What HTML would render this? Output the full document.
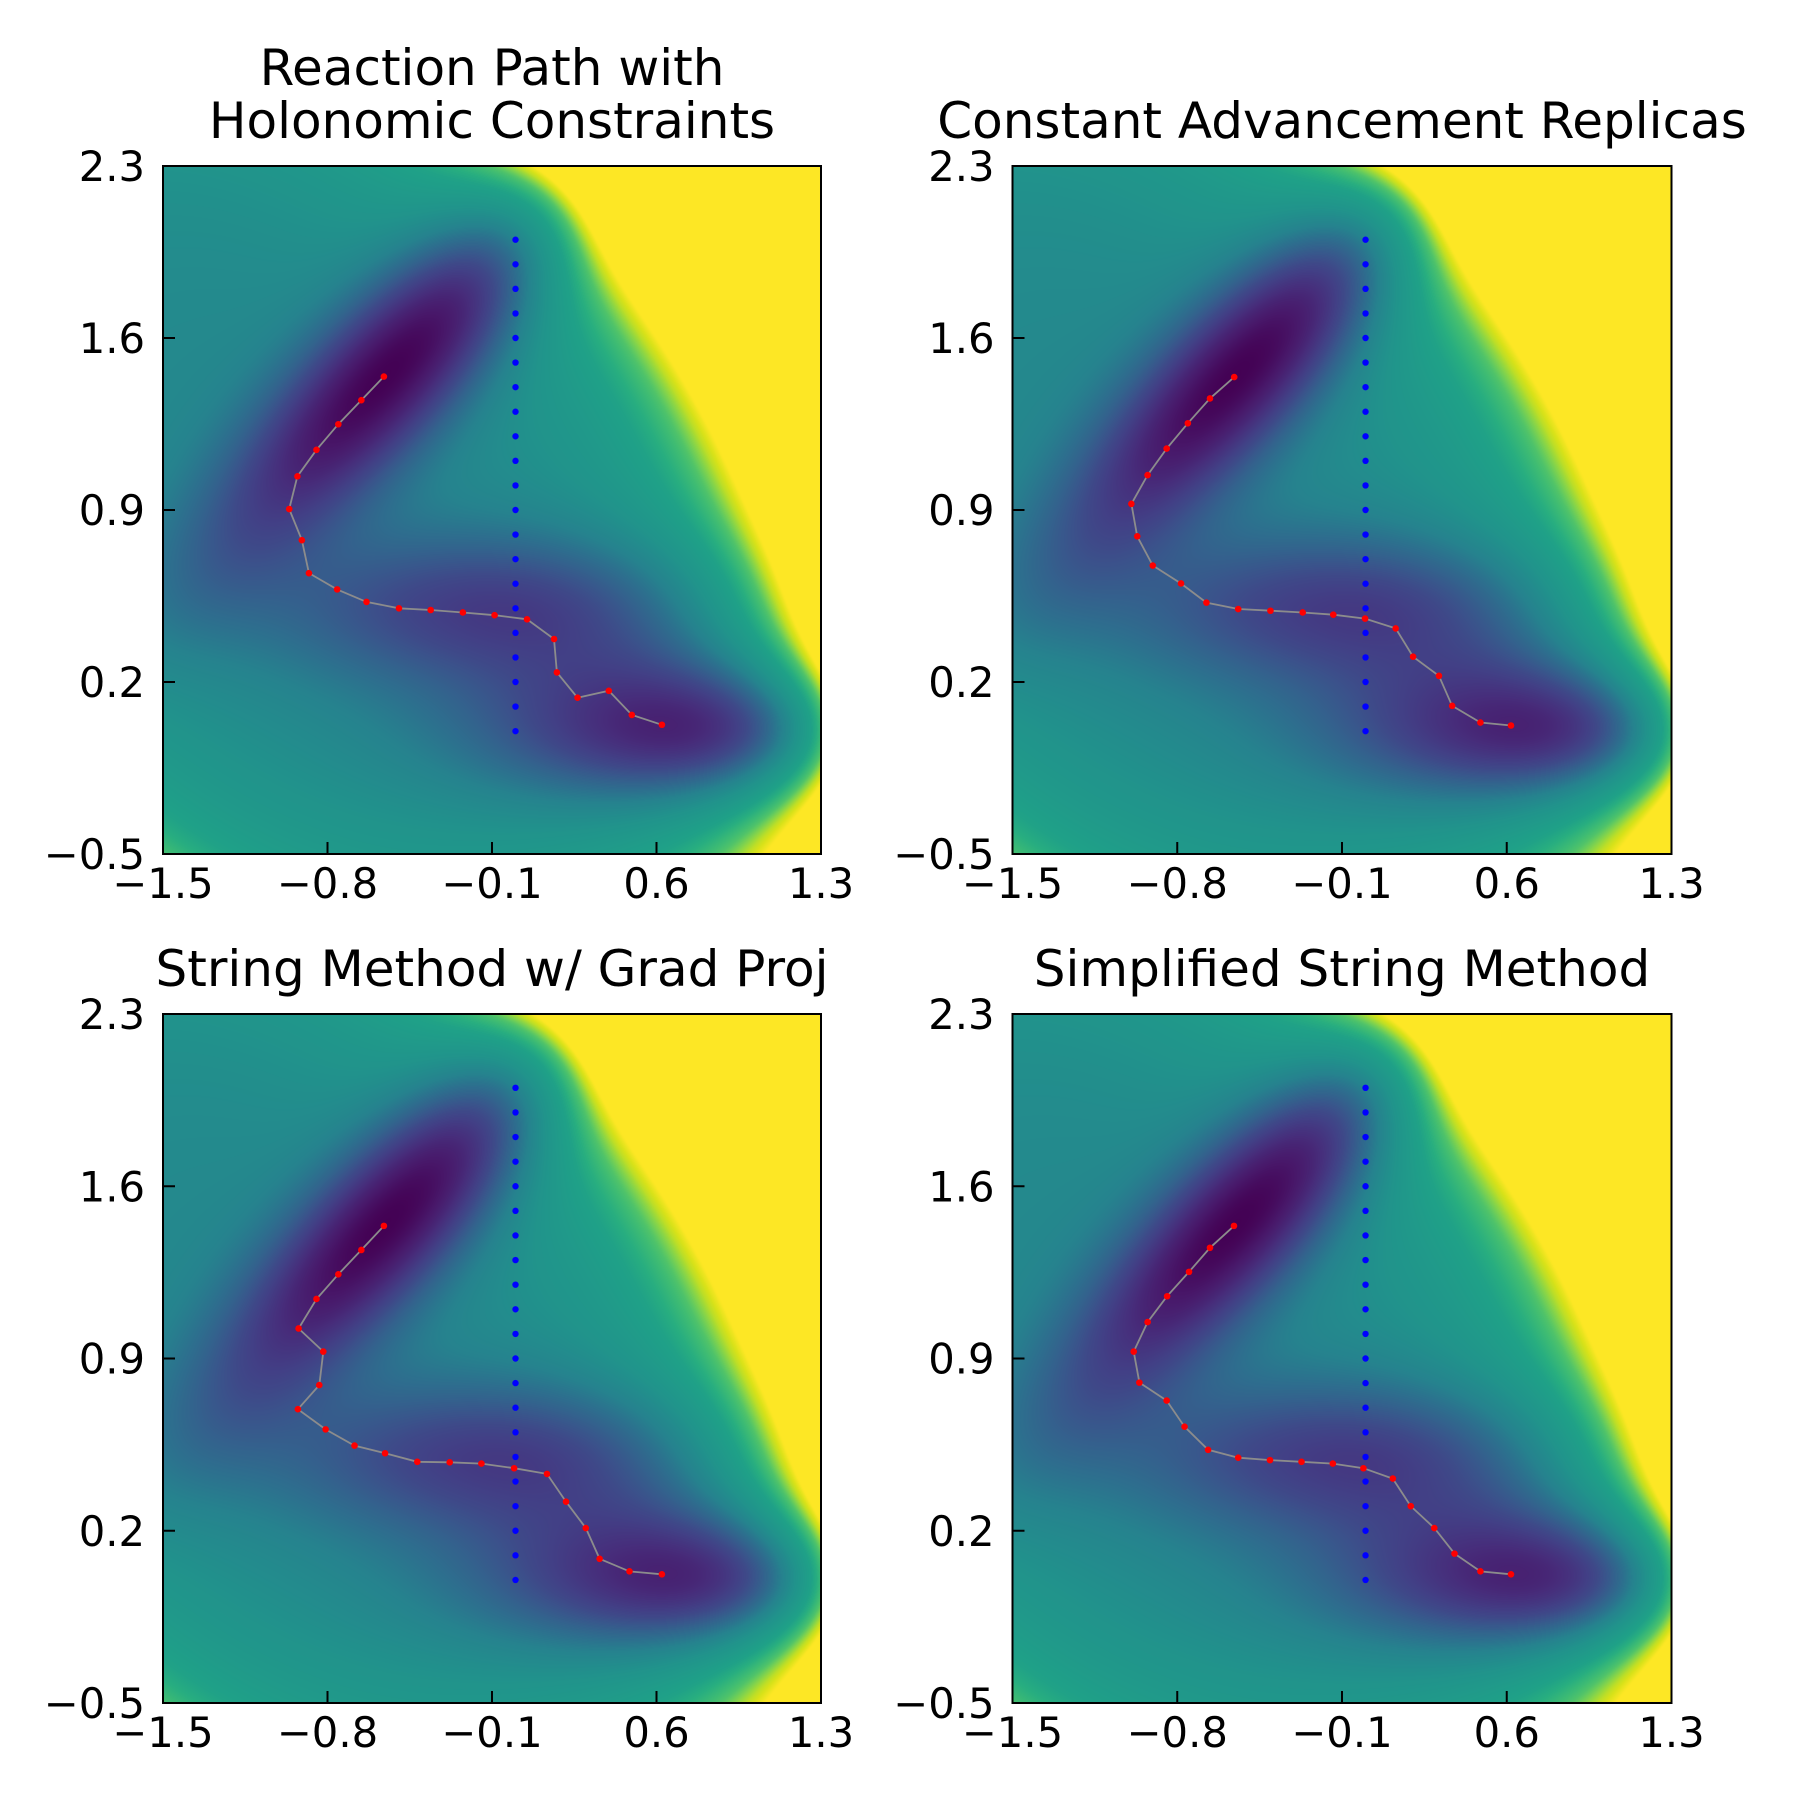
<!DOCTYPE html>
<html><head><meta charset="utf-8">
<style>
html,body{margin:0;padding:0;background:#fff;}
#root{position:relative;width:1800px;height:1800px;overflow:hidden;font-family:"DejaVu Sans","Liberation Sans",sans-serif;}
canvas{position:absolute;}
svg{position:absolute;left:0;top:0;}
</style></head>
<body>
<div id="root">
<svg id="svg" width="1800" height="1800"></svg>
</div>
<script>
// ---- data ----
const xTicks = [-1.5, -0.8, -0.1, 0.6, 1.3];
const yTicks = [-0.5, 0.2, 0.9, 1.6, 2.3];
const xTickLabels = ["\u22121.5", "\u22120.8", "\u22120.1", "0.6", "1.3"];
const yTickLabels = ["\u22120.5", "0.2", "0.9", "1.6", "2.3"];
const constraintX = 0.0;
const constraintY = [0,0.1,0.2,0.3,0.4,0.5,0.6,0.7,0.8,0.9,1.0,1.1,1.2,1.3,1.4,1.5,1.6,1.7,1.8,1.9,2.0];
const titles = [["Reaction Path with","Holonomic Constraints"],["Constant Advancement Replicas"],["String Method w/ Grad Proj"],["Simplified String Method"]];
const pathX1 = [-0.560,-0.656,-0.754,-0.847,-0.928,-0.963,-0.909,-0.879,-0.759,-0.634,-0.496,-0.361,-0.224,-0.089,0.049,0.164,0.176,0.264,0.397,0.495,0.623];
const pathY1 = [1.443,1.347,1.249,1.145,1.037,0.904,0.777,0.643,0.577,0.526,0.500,0.493,0.483,0.472,0.455,0.375,0.239,0.136,0.164,0.066,0.026];
const pathX2 = [-0.558,-0.661,-0.755,-0.845,-0.926,-0.995,-0.970,-0.904,-0.784,-0.676,-0.541,-0.404,-0.267,-0.137,-0.002,0.128,0.202,0.312,0.368,0.488,0.618];
const pathY2 = [1.441,1.354,1.253,1.150,1.042,0.925,0.793,0.674,0.601,0.523,0.497,0.490,0.483,0.474,0.458,0.418,0.303,0.225,0.103,0.035,0.023];
const pathX3 = [-0.560,-0.656,-0.754,-0.847,-0.923,-0.818,-0.835,-0.926,-0.808,-0.685,-0.555,-0.418,-0.280,-0.145,-0.006,0.134,0.215,0.299,0.358,0.485,0.623];
const pathY3 = [1.439,1.341,1.242,1.142,1.022,0.928,0.792,0.694,0.612,0.546,0.515,0.480,0.478,0.473,0.454,0.431,0.318,0.211,0.086,0.035,0.023];
const pathX4 = [-0.559,-0.661,-0.750,-0.843,-0.926,-0.985,-0.961,-0.845,-0.769,-0.669,-0.541,-0.406,-0.272,-0.139,-0.009,0.116,0.192,0.292,0.378,0.488,0.618];
const pathY4 = [1.439,1.350,1.252,1.153,1.048,0.928,0.802,0.729,0.623,0.529,0.497,0.487,0.480,0.473,0.454,0.412,0.300,0.211,0.107,0.035,0.023];
const pathsX = [pathX1, pathX2, pathX3, pathX4];
const pathsY = [pathY1, pathY2, pathY3, pathY4];

// ---- layout ----
const panels = [
  {l:163, r:821, t:166, b:854},
  {l:1012.5, r:1671.5, t:166, b:854},
  {l:163, r:821, t:1014, b:1703},
  {l:1012.5, r:1671.5, t:1014, b:1703}
];
const XMIN=-1.5, XMAX=1.3, YMIN=-0.5, YMAX=2.3;
// colour normalisation knots (potential -> colormap position)
const NV=[-147,-100,-60,5,40,90,140,175,205];
const NT=[0,0.11,0.22,0.44,0.51,0.57,0.72,0.9,1];

const viridis = ["#440154","#48186a","#472d7b","#424086","#3b528b","#33638d","#2c728e","#26828e","#21918c","#1fa088","#28ae80","#3fbc73","#5ec962","#84d44b","#addc30","#d8e219","#fde725"].map(h=>[parseInt(h.substr(1,2),16),parseInt(h.substr(3,2),16),parseInt(h.substr(5,2),16)]);
function cmap(t){
  t=Math.max(0,Math.min(1,t));
  const f=t*16, i=Math.min(15,Math.floor(f)), u=f-i;
  const a=viridis[i], b=viridis[i+1];
  return [a[0]+(b[0]-a[0])*u, a[1]+(b[1]-a[1])*u, a[2]+(b[2]-a[2])*u];
}
function norm(v){
  if(v<=NV[0]) return 0;
  for(let k=1;k<NV.length;k++){
    if(v<=NV[k]) return NT[k-1]+(NT[k]-NT[k-1])*(v-NV[k-1])/(NV[k]-NV[k-1]);
  }
  return 1;
}
const A=[-200,-100,-170,15], a=[-1,-1,-6.5,0.7], bb=[0,0,11,0.6], c=[-10,-10,-6.5,0.7], x0=[1,0,-0.5,-1], y0=[0,0.5,1.5,1];
function V(x,y){
  let s=0;
  for(let k=0;k<4;k++){const dx=x-x0[k],dy=y-y0[k]; s+=A[k]*Math.exp(a[k]*dx*dx+bb[k]*dx*dy+c[k]*dy*dy);}
  return s;
}

const NS="http://www.w3.org/2000/svg";
const svg=document.getElementById('svg');
const root=document.getElementById('root');
function mk(tag, attrs, parent){
  const e=document.createElementNS(NS,tag);
  for(const k in attrs) e.setAttribute(k,attrs[k]);
  (parent||svg).appendChild(e); return e;
}

panels.forEach((p,pi)=>{
  const W=Math.round(p.r-p.l), H=Math.round(p.b-p.t);
  const sx=v=>p.l+(v-XMIN)/(XMAX-XMIN)*(p.r-p.l);
  const sy=v=>p.b-(v-YMIN)/(YMAX-YMIN)*(p.b-p.t);
  const cv=document.createElement('canvas');
  cv.width=W; cv.height=H;
  cv.style.left=p.l+'px'; cv.style.top=p.t+'px';
  
  
  root.insertBefore(cv, svg);
  const ctx=cv.getContext('2d'); const img=ctx.createImageData(W,H);
  for(let j=0;j<H;j++){
    const y=YMAX-(j+0.5)/H*(YMAX-YMIN);
    for(let i=0;i<W;i++){
      const x=XMIN+(i+0.5)/W*(XMAX-XMIN);
      const col=cmap(norm(V(x,y)));
      const o=(j*W+i)*4; img.data[o]=col[0]; img.data[o+1]=col[1]; img.data[o+2]=col[2]; img.data[o+3]=255;
    }
  }
  ctx.putImageData(img,0,0);

  const g=mk('g',{});
  
  
  constraintY.forEach(yv=>{
    const d=mk('circle',{cx:sx(constraintX),cy:sy(yv),r:3.2,fill:'#0000ff'},g);
    
    
  });
  const px=pathsX[pi], py=pathsY[pi];
  const pts=px.map((v,k)=>sx(v).toFixed(1)+','+sy(py[k]).toFixed(1)).join(' ');
  const pl=mk('polyline',{points:pts,fill:'none',stroke:'#8c8c8c','stroke-width':1.8},g);
  
  
  px.forEach((v,k)=>{
    const d=mk('circle',{cx:sx(v),cy:sy(py[k]),r:3.3,fill:'#ff0000'},g);
    
    
  });
  const fr=mk('rect',{x:p.l,y:p.t,width:p.r-p.l,height:p.b-p.t,fill:'none',stroke:'#000','stroke-width':2},g);
  
  
  xTicks.forEach((v,k)=>{
    const X=sx(v);
    const t=mk('line',{x1:X,x2:X,y1:p.b,y2:p.b-12,stroke:'#000','stroke-width':2},g);
    
    
    const tx=mk('text',{x:X,y:p.b+44,'text-anchor':'middle','font-size':41.7,fill:'#000'},g);
    tx.textContent=xTickLabels[k];
    
    
  });
  yTicks.forEach((v,k)=>{
    const Y=sy(v);
    const t=mk('line',{x1:p.l,x2:p.l+12,y1:Y,y2:Y,stroke:'#000','stroke-width':2},g);
    
    
    const tx=mk('text',{x:p.l-18,y:Y+15,'text-anchor':'end','font-size':41.7,fill:'#000'},g);
    tx.textContent=yTickLabels[k];
    
    
  });
  const lines=titles[pi];
  const cx=(p.l+p.r)/2;
  lines.forEach((ln,k)=>{
    const base=p.t-28-(lines.length-1-k)*53;
    const tt=mk('text',{x:cx,y:base,'text-anchor':'middle','font-size':50,fill:'#000'},g);
    tt.textContent=ln;
    
    
  });
});
</script>
</body></html>
